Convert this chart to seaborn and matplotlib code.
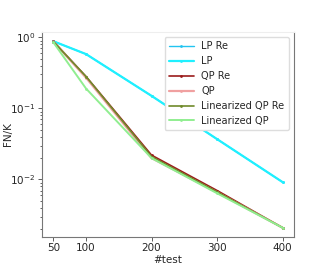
import numpy as np
import pandas as pd
import seaborn as sns
import matplotlib
matplotlib.use("Agg")
import matplotlib.pyplot as plt

# numero di test sull'asse x
n_test = [50, 100, 200, 300, 400]

# FN/K
lp_re = [0.88, 0.58, 0.15, 0.037, 0.0092]
lp = [0.88, 0.58, 0.15, 0.037, 0.0092]
qp_re = [0.88, 0.28, 0.022, 0.0070, 0.0021]
qp = [0.87, 0.27, 0.020, 0.0066, 0.0021]
lin_qp_re = [0.87, 0.28, 0.021, 0.0067, 0.0021]
lin_qp = [0.85, 0.19, 0.020, 0.0064, 0.0021]

serie = {
    "LP Re": lp_re,
    "LP": lp,
    "QP Re": qp_re,
    "QP": qp,
    "Linearized QP Re": lin_qp_re,
    "Linearized QP": lin_qp,
}
colori = {
    "LP Re": "#22c4f0",
    "LP": "#1ff0ff",
    "QP Re": "#9b1b1b",
    "QP": "#f0a0a0",
    "Linearized QP Re": "#6f8a2a",
    "Linearized QP": "#90ee90",
}
spessori = {
    "LP Re": 1.0,
    "LP": 1.6,
    "QP Re": 1.2,
    "QP": 1.6,
    "Linearized QP Re": 1.2,
    "Linearized QP": 1.4,
}

df = pd.DataFrame([
    {"test": x, "val": v, "metodo": nome}
    for nome, valori in serie.items()
    for x, v in zip(n_test, valori)
])

sns.set_style("white")
plt.rcParams['font.family'] = ['DejaVu Sans']

fig, ax = plt.subplots(figsize=(3.27, 2.66), dpi=100)
for nome in serie:
    sub = df[df["metodo"] == nome]
    sns.lineplot(data=sub, x="test", y="val", ax=ax, color=colori[nome],
                 linewidth=spessori[nome], marker="o", markersize=2,
                 markeredgewidth=0, label=nome)

ax.set_yscale("log")
ax.set_xticks([50, 100, 200, 300, 400])
ax.set_xlabel("#test", fontsize=7.5, labelpad=1)
ax.set_ylabel("FN/K", fontsize=7.5)
ax.yaxis.set_label_coords(-0.115, 0.5)
ax.tick_params(axis="both", labelsize=7.5, length=3, width=0.6,
               color="#444444", pad=1.5)
ax.tick_params(axis="both", which="both", bottom=True, left=True)
ax.tick_params(axis="y", which="minor", length=1.8, width=0.5)
for lato, sp in ax.spines.items():
    sp.set_color("#777777")
    sp.set_linewidth(0.8)
ax.spines["top"].set_color("#eeeeee")
ax.legend(loc="upper right", fontsize=7.1, frameon=True, handlelength=2.5,
          borderpad=0.45, labelspacing=0.5, framealpha=1, edgecolor="#dddddd")

fig.subplots_adjust(left=0.128, right=0.899, bottom=0.109, top=0.88)
fig.savefig("out.png", dpi=100)
